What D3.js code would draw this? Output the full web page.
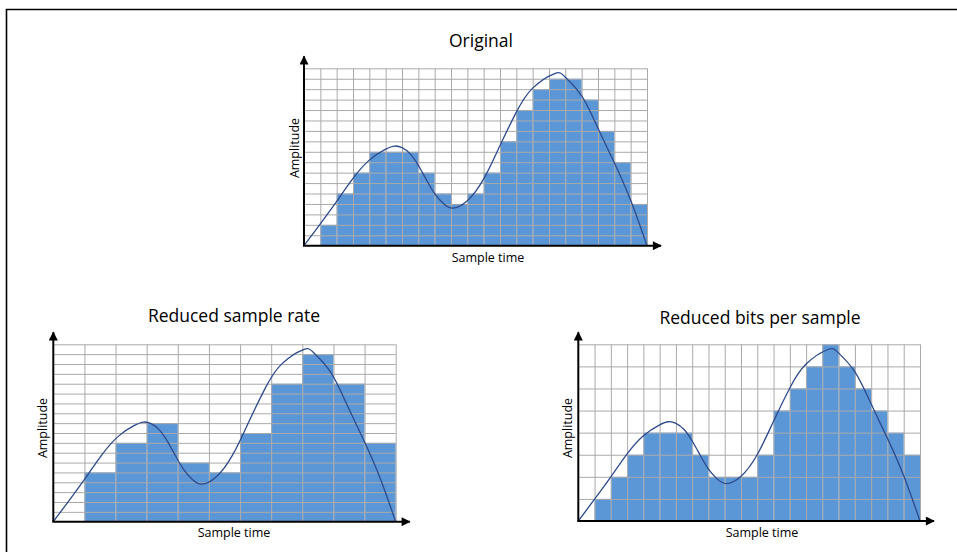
<!DOCTYPE html>
<html>
<head>
<meta charset="utf-8">
<script src="https://cdn.jsdelivr.net/npm/d3@7"></script>
<style>
  html, body { margin: 0; padding: 0; background: #fff; }
  svg { display: block; }
  text { font-family: "Open Sans", "Noto Sans", sans-serif; fill: #000; }
</style>
</head>
<body>
<svg id="chart" width="957" height="552"></svg>
<script>
// ---------- DATA ----------
// Continuous signal, read in units of the "Original" grid (21 sample columns x 17 levels)
const signalX = [0, 1, 2, 3, 4, 5, 5.55, 6, 6.5, 7, 7.5, 8, 8.5, 9.1, 10, 11, 12, 13, 14, 15.35, 16, 17, 18, 19, 20, 21];
const signalY = [0, 2.1, 4.25, 6.45, 8.2, 9.25, 9.55, 9.4, 8.8, 7.7, 6.3, 5.0, 4.1, 3.6, 4.3, 6.4, 9.6, 12.8, 15.1, 16.5, 16.15, 14.35, 11.25, 7.95, 4.35, 0];
const signalSpanX = 21;
const signalSpanY = 17;

// Sampled values (bar heights, in quantisation levels)
const originalSamples     = [0, 2, 5, 7, 9, 9, 9, 7, 5, 4, 5, 7, 10, 13, 15, 16, 16, 14, 11, 8, 4];
const reducedRateSamples  = [0, 5, 8, 10, 6, 5, 9, 14, 17, 14, 8];
const reducedBitsSamples  = [0, 1, 2, 3, 4, 4, 4, 3, 2, 2, 2, 3, 5, 6, 7, 8, 7, 6, 5, 4, 3];

const originalLevels    = 17;
const reducedRateLevels = 18;
const reducedBitsLevels = 8;

const panelTitles = ["Original", "Reduced sample rate", "Reduced bits per sample"];
const xAxisLabel = "Sample time";
const yAxisLabel = "Amplitude";

// ---------- STYLE ----------
const barColor = "#5b97d6";
const gridColor = "#aaaaaa";
const curveColor = "#2d4a8c";

const svg = d3.select("#chart");

// frame
svg.append("path")
  .attr("d", "M6.5,552 V9.5 H957")
  .attr("fill", "none").attr("stroke", "#000").attr("stroke-width", 1.6);

// arrow marker
const defs = svg.append("defs");
defs.append("marker")
  .attr("id", "arrow")
  .attr("viewBox", "0 0 10 10")
  .attr("refX", 9).attr("refY", 5)
  .attr("markerWidth", 5).attr("markerHeight", 4.5)
  .attr("markerUnits", "strokeWidth")
  .attr("orient", "auto")
  .append("path").attr("d", "M0,0 L10,5 L0,10 Z").attr("fill", "#000");

const panels = [
  { title: panelTitles[0], samples: originalSamples, levels: originalLevels,
    left: 304, top: 68.3, w: 343, h: 177.4,
    titleX: 481, titleY: 47, titleSize: 17.5,
    xlX: 488, xlY: 262, ylX: 299, ylY: 148 },
  { title: panelTitles[1], samples: reducedRateSamples, levels: reducedRateLevels,
    left: 53.3, top: 344.3, w: 342.4, h: 177.4,
    titleX: 234, titleY: 321.5, titleSize: 17.5,
    xlX: 234, xlY: 537, ylX: 47, ylY: 428 },
  { title: panelTitles[2], samples: reducedBitsSamples, levels: reducedBitsLevels,
    left: 578.3, top: 344.3, w: 341.7, h: 176.7,
    titleX: 760, titleY: 324, titleSize: 17.5,
    xlX: 762, xlY: 537, ylX: 572, ylY: 428 }
];

panels.forEach(p => {
  const n = p.samples.length;
  const g = svg.append("g");
  const x = d3.scaleLinear().domain([0, n]).range([p.left, p.left + p.w]);
  const y = d3.scaleLinear().domain([0, p.levels]).range([p.top + p.h, p.top]);

  // bars
  g.append("g").selectAll("rect").data(p.samples).join("rect")
    .attr("x", (d, i) => x(i))
    .attr("width", (d, i) => x(i + 1) - x(i))
    .attr("y", d => y(d))
    .attr("height", d => y(0) - y(d))
    .attr("fill", barColor);

  // grid via axes
  const gx = g.append("g")
    .attr("transform", `translate(0,${p.top + p.h})`)
    .call(d3.axisBottom(x).tickValues(d3.range(1, n + 1)).tickSize(-p.h).tickFormat(""));
  const gy = g.append("g")
    .attr("transform", `translate(${p.left},0)`)
    .call(d3.axisLeft(y).tickValues(d3.range(1, p.levels + 1)).tickSize(-p.w).tickFormat(""));
  [gx, gy].forEach(a => {
    a.select(".domain").remove();
    a.selectAll("line").attr("stroke", gridColor).attr("stroke-width", 1);
  });

  // signal curve
  const pts = signalX.map((sx, i) => [sx / signalSpanX * n, signalY[i] / signalSpanY * p.levels]);
  g.append("path")
    .datum(pts)
    .attr("d", d3.line().x(d => x(d[0])).y(d => y(d[1])).curve(d3.curveNatural))
    .attr("fill", "none").attr("stroke", curveColor).attr("stroke-width", 1.3);

  // axes with arrows
  g.append("line")
    .attr("x1", x(0)).attr("y1", y(0)).attr("x2", x(0)).attr("y2", p.top - 12)
    .attr("stroke", "#000").attr("stroke-width", 2).attr("marker-end", "url(#arrow)");
  g.append("line")
    .attr("x1", x(0) - 1).attr("y1", y(0)).attr("x2", x(n) + 14).attr("y2", y(0))
    .attr("stroke", "#000").attr("stroke-width", 2).attr("marker-end", "url(#arrow)");

  // texts
  g.append("text").attr("x", p.titleX).attr("y", p.titleY)
    .attr("text-anchor", "middle").attr("font-size", p.titleSize).text(p.title);
  g.append("text").attr("x", p.xlX).attr("y", p.xlY)
    .attr("text-anchor", "middle").attr("font-size", 12.5).text(xAxisLabel);
  g.append("text").attr("transform", `translate(${p.ylX},${p.ylY}) rotate(-90)`)
    .attr("text-anchor", "middle").attr("font-size", 12.5).text(yAxisLabel);
});
</script>
</body>
</html>
